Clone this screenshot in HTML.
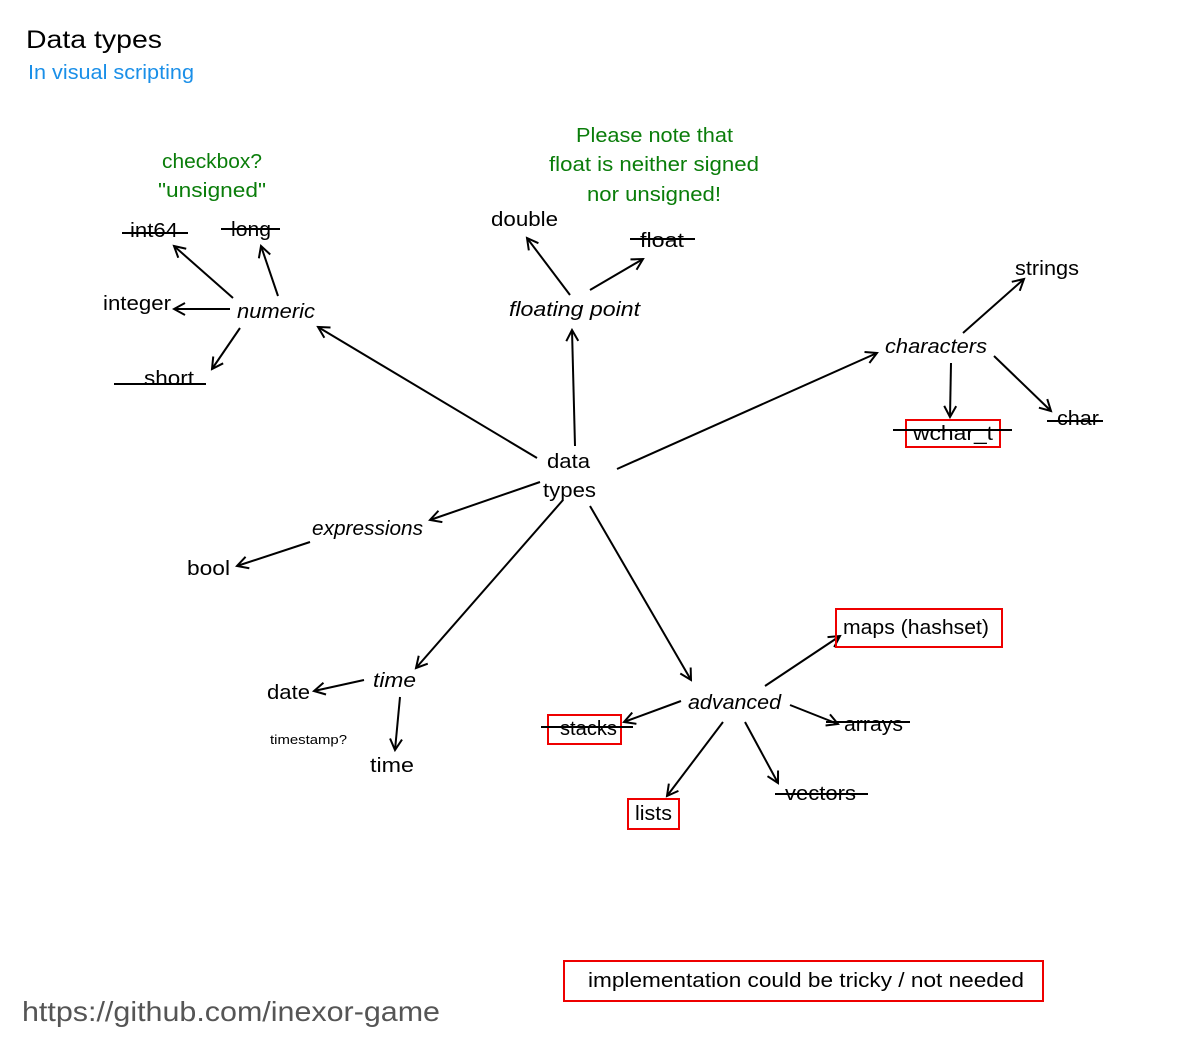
<!DOCTYPE html>
<html><head><meta charset="utf-8"><style>
html,body{margin:0;padding:0;background:#fff;}
svg{display:block;font-family:"Liberation Sans",sans-serif;}
text{font-size:20px;fill:#000;}
.i{font-style:italic;}
.g{fill:#0a7d0a;}
</style></head><body>
<svg width="1200" height="1044" viewBox="0 0 1200 1044" xmlns="http://www.w3.org/2000/svg">
<defs><marker id="a" markerWidth="14" markerHeight="14" refX="12" refY="7" orient="auto" markerUnits="userSpaceOnUse"><path d="M1,1 L12,7 L1,13" fill="none" stroke="#000" stroke-width="2"/></marker></defs>
<text x="26" y="48" style="font-size:25px" textLength="136" lengthAdjust="spacingAndGlyphs">Data types</text>
<text x="28" y="79" style="font-size:20px;fill:#1a8fe8" textLength="166" lengthAdjust="spacingAndGlyphs">In visual scripting</text>
<text class="g" x="162" y="168" textLength="100" lengthAdjust="spacingAndGlyphs">checkbox?</text>
<text class="g" x="158" y="197" textLength="108" lengthAdjust="spacingAndGlyphs">"unsigned"</text>
<text class="g" x="576" y="142" textLength="157" lengthAdjust="spacingAndGlyphs">Please note that</text>
<text class="g" x="549" y="171" textLength="210" lengthAdjust="spacingAndGlyphs">float is neither signed</text>
<text class="g" x="587" y="201" textLength="134" lengthAdjust="spacingAndGlyphs">nor unsigned!</text>
<g stroke="#000" stroke-width="2" fill="none" marker-end="url(#a)">
<line x1="233" y1="298" x2="174" y2="246"/>
<line x1="278" y1="296" x2="261" y2="246"/>
<line x1="230" y1="309" x2="174" y2="309"/>
<line x1="240" y1="328" x2="212" y2="369"/>
<line x1="537" y1="458" x2="318" y2="327"/>
<line x1="575" y1="446" x2="572" y2="330"/>
<line x1="570" y1="295" x2="527" y2="238"/>
<line x1="590" y1="290" x2="643" y2="259"/>
<line x1="617" y1="469" x2="877" y2="353"/>
<line x1="963" y1="333" x2="1024" y2="279"/>
<line x1="951" y1="363" x2="950" y2="417"/>
<line x1="994" y1="356" x2="1051" y2="411"/>
<line x1="540" y1="482" x2="430" y2="520"/>
<line x1="310" y1="542" x2="237" y2="566"/>
<line x1="563" y1="500" x2="416" y2="668"/>
<line x1="364" y1="680" x2="314" y2="691"/>
<line x1="400" y1="697" x2="395" y2="750"/>
<line x1="590" y1="506" x2="691" y2="680"/>
<line x1="765" y1="686" x2="840" y2="636"/>
<line x1="681" y1="701" x2="624" y2="722"/>
<line x1="790" y1="705" x2="838" y2="724"/>
<line x1="723" y1="722" x2="667" y2="796"/>
<line x1="745" y1="722" x2="778" y2="783"/>
</g>
<g fill="none" stroke="#e00" stroke-width="2">
<rect x="906" y="420" width="94" height="27"/>
<rect x="836" y="609" width="166" height="38"/>
<rect x="548" y="715" width="73" height="29"/>
<rect x="628" y="799" width="51" height="30"/>
<rect x="564" y="961" width="479" height="40"/>
</g>
<g stroke="#000" stroke-width="2">
<line x1="122" y1="233" x2="188" y2="233"/>
<line x1="221" y1="229" x2="280" y2="229"/>
<line x1="114" y1="384" x2="206" y2="384"/>
<line x1="630" y1="239" x2="695" y2="239"/>
<line x1="893" y1="430" x2="1012" y2="430"/>
<line x1="1047" y1="421" x2="1103" y2="421"/>
<line x1="541" y1="727" x2="633" y2="727"/>
<line x1="826" y1="722" x2="910" y2="722"/>
<line x1="775" y1="794" x2="868" y2="794"/>
</g>
<g lengthAdjust="spacingAndGlyphs">
<text x="130" y="237" textLength="48" lengthAdjust="spacingAndGlyphs">int64</text>
<text x="231" y="236" textLength="40" lengthAdjust="spacingAndGlyphs">long</text>
<text x="103" y="310" textLength="68" lengthAdjust="spacingAndGlyphs">integer</text>
<text class="i" x="237" y="318" textLength="78" lengthAdjust="spacingAndGlyphs">numeric</text>
<text x="144" y="385" textLength="50" lengthAdjust="spacingAndGlyphs">short</text>
<text x="491" y="226" textLength="67" lengthAdjust="spacingAndGlyphs">double</text>
<text x="640" y="247" textLength="44" lengthAdjust="spacingAndGlyphs">float</text>
<text class="i" x="509" y="316" textLength="131" lengthAdjust="spacingAndGlyphs">floating point</text>
<text x="1015" y="275" textLength="64" lengthAdjust="spacingAndGlyphs">strings</text>
<text class="i" x="885" y="353" textLength="102" lengthAdjust="spacingAndGlyphs">characters</text>
<text x="913" y="440" textLength="80" lengthAdjust="spacingAndGlyphs">wchar_t</text>
<text x="1057" y="425" textLength="42" lengthAdjust="spacingAndGlyphs">char</text>
<text x="547" y="468" textLength="43" lengthAdjust="spacingAndGlyphs">data</text>
<text x="543" y="497" textLength="53" lengthAdjust="spacingAndGlyphs">types</text>
<text class="i" x="312" y="535" textLength="111" lengthAdjust="spacingAndGlyphs">expressions</text>
<text x="187" y="575" textLength="43" lengthAdjust="spacingAndGlyphs">bool</text>
<text class="i" x="373" y="687" textLength="43" lengthAdjust="spacingAndGlyphs">time</text>
<text x="267" y="699" textLength="43" lengthAdjust="spacingAndGlyphs">date</text>
<text x="270" y="744" style="font-size:13px" textLength="77" lengthAdjust="spacingAndGlyphs">timestamp?</text>
<text x="370" y="772" textLength="44" lengthAdjust="spacingAndGlyphs">time</text>
<text class="i" x="688" y="709" textLength="93" lengthAdjust="spacingAndGlyphs">advanced</text>
<text x="843" y="634" textLength="146" lengthAdjust="spacingAndGlyphs">maps (hashset)</text>
<text x="560" y="735" textLength="57" lengthAdjust="spacingAndGlyphs">stacks</text>
<text x="844" y="731" textLength="59" lengthAdjust="spacingAndGlyphs">arrays</text>
<text x="635" y="820" textLength="37" lengthAdjust="spacingAndGlyphs">lists</text>
<text x="785" y="800" textLength="71" lengthAdjust="spacingAndGlyphs">vectors</text>
<text x="588" y="987" textLength="436" lengthAdjust="spacingAndGlyphs">implementation could be tricky / not needed</text>
<text x="22" y="1021" style="font-size:28px;fill:#555" textLength="418" lengthAdjust="spacingAndGlyphs">https://github.com/inexor-game</text>
</g>
</svg>
</body></html>
